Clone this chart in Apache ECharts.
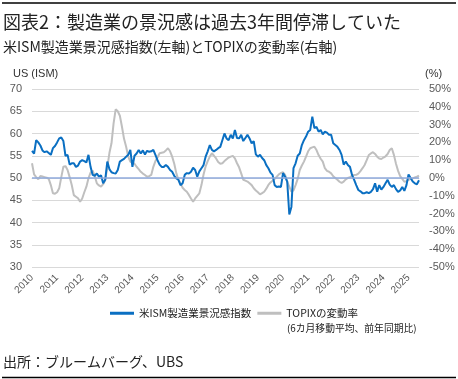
<!DOCTYPE html>
<html><head><meta charset="utf-8">
<script src="https://cdn.jsdelivr.net/npm/echarts@6/dist/echarts.min.js"></script>
<style>html,body{margin:0;padding:0;background:#fff;}#c{width:458px;height:379px;}</style>
</head><body><div id="c"></div>
<script>
// ---- Data ----
const startYear = 2010;
const monthsCount = 186; // 2010-01 .. 2025-06
const categories = [];
for (let i = 0; i < monthsCount; i++) {
  const y = startYear + Math.floor(i / 12), m = (i % 12) + 1;
  categories.push(y + '-' + (m < 10 ? '0' + m : m));
}
const ism = [
  56.1,55.5,58.5,58.0,57.3,56.2,55.8,56.0,55.6,55.2,56.7,57.2,
  58.0,58.9,59.1,58.3,55.0,55.2,53.0,53.3,53.3,52.5,52.8,53.7,
  54.0,53.8,53.5,55.2,52.5,50.7,50.5,51.0,50.3,50.6,48.8,49.6,
  53.7,52.0,51.3,51.1,51.0,51.8,53.7,54.0,54.3,54.8,55.2,56.3,
  52.5,55.0,55.5,56.3,55.5,56.2,55.3,56.1,55.9,56.0,56.3,55.2,
  54.0,53.0,52.5,52.5,52.9,52.5,51.8,51.4,50.5,49.9,49.6,48.4,
  48.8,50.7,51.1,51.0,51.4,52.3,51.8,50.3,51.5,52.2,52.9,54.8,
  56.0,57.4,56.3,56.0,56.3,56.7,57.0,58.5,60.0,58.9,58.5,59.7,
  58.9,60.8,59.0,58.9,59.7,58.3,59.0,59.7,58.9,57.8,58.3,55.3,
  54.8,55.2,54.5,54.0,52.9,52.2,51.2,50.7,48.4,48.0,48.1,48.0,
  51.1,50.3,49.2,41.8,43.5,52.2,53.3,55.0,55.5,57.4,58.5,59.3,
  60.4,60.8,63.8,61.2,61.5,60.4,60.8,59.8,60.4,60.2,59.7,59.7,
  57.8,57.4,57.0,56.3,55.2,53.0,53.7,52.9,52.5,50.7,49.6,48.4,
  47.3,47.0,46.6,46.6,46.8,46.6,46.9,47.5,48.8,46.9,48.4,47.4,
  48.0,48.8,49.6,48.5,48.0,48.4,47.5,46.9,47.2,48.0,47.1,48.4,
  50.8,50.0,49.2,48.8,48.6,49.5
];
const topix = [
  8.3,2.0,0.5,-0.7,1.1,0.8,0.5,0.2,-0.5,-4.0,-8.6,-8.8,
  -8.0,-5.8,0.5,6.3,6.7,4.5,0.5,-3.9,-9.6,-10.5,-11.4,-13.3,
  -11.5,-8.0,-4.9,-0.2,3.0,4.1,1.0,-3.0,-4.2,-4.9,-3.5,-1.1,
  6.0,14.0,19.5,30.7,38.6,37.5,35.0,28.8,22.0,17.6,12.0,9.2,
  8.5,8.0,6.3,5.0,3.5,2.5,1.7,0.7,1.0,1.7,6.3,9.5,
  11.5,13.9,14.2,14.5,15.5,16.7,15.0,12.0,8.0,2.6,-1.0,-3.0,
  -5.5,-6.7,-7.7,-9.5,-11.5,-13.3,-11.5,-10.0,-8.6,-4.0,2.0,6.5,
  9.5,12.0,13.9,12.5,11.0,9.0,8.0,8.3,9.5,10.5,11.5,12.0,
  12.4,11.0,8.3,6.0,2.6,-1.0,-1.5,-2.0,-3.0,-4.0,-5.8,-7.0,
  -8.0,-9.2,-8.5,-7.7,-6.0,-3.9,-2.5,-1.5,-0.5,0.7,2.0,2.8,
  3.2,1.7,-2.1,-4.9,-7.7,-7.0,-4.0,-0.5,4.5,7.0,9.2,12.0,
  15.0,16.7,17.2,17.6,15.7,12.9,10.8,9.2,5.5,4.0,3.5,2.6,
  1.0,0.0,-1.0,-2.1,-2.8,-2.0,-0.8,0.0,0.5,1.2,1.7,1.8,
  2.5,3.9,5.5,7.3,10.0,12.9,13.8,14.5,13.5,12.0,11.0,10.7,
  11.5,12.2,13.5,15.7,16.7,13.0,8.0,4.0,1.0,-0.5,-2.1,-1.8,
  -1.1,-0.5,-0.2,0.3,0.7,1.3
];
const leftTicks = { min: 30, max: 70, interval: 5 };
const rightTicks = { min: -50, max: 50, interval: 10 };
const seriesNames = ['米ISM製造業景況感指数', 'TOPIXの変動率'];
const legendSub = '(6カ月移動平均、前年同期比)';
const titleText = '図表2：製造業の景況感は過去3年間停滞していた';
const subtitleText = '米ISM製造業景況感指数(左軸)とTOPIXの変動率(右軸)';
const sourceText = '出所：ブルームバーグ、UBS';

// ---- Chart ----
const CJK = '"Noto Sans CJK JP","Noto Sans",sans-serif';
const AX = '"Liberation Sans","DejaVu Sans",sans-serif';
const chart = echarts.init(document.getElementById('c'), null, { renderer: 'canvas' });
chart.setOption({
  backgroundColor: '#ffffff',
  animation: false,
  grid: { left: 32, right: 39, top: 89, bottom: 112, containLabel: false },
  legend: {
    data: seriesNames,
    icon: 'rect',
    left: 110, top: 308, padding: 0,
    itemWidth: 24, itemHeight: 3, itemGap: 6,
    textStyle: { fontSize: 10.5, color: '#222', fontFamily: CJK },
    selectedMode: false
  },
  xAxis: {
    type: 'category', data: categories, boundaryGap: false,
    axisLine: { show: true, lineStyle: { color: '#d9d9d9' } },
    axisTick: { show: false },
    axisLabel: {
      interval: function (i) { return i % 12 === 0; },
      formatter: function (v) { return v.slice(0, 4); },
      rotate: 45, margin: 9, fontSize: 10, color: '#595959', fontFamily: AX
    },
    splitLine: { show: false }
  },
  yAxis: [
    {
      type: 'value', min: leftTicks.min, max: leftTicks.max, interval: leftTicks.interval,
      axisLine: { show: false }, axisTick: { show: false },
      axisLabel: { fontSize: 11, color: '#595959', margin: 10, fontFamily: AX },
      splitLine: { lineStyle: { color: '#d9d9d9', width: 1 } }
    },
    {
      type: 'value', min: rightTicks.min, max: rightTicks.max, interval: rightTicks.interval,
      axisLine: { show: false }, axisTick: { show: false },
      axisLabel: { fontSize: 11, color: '#595959', margin: 10, formatter: '{value}%', fontFamily: AX },
      splitLine: { show: false }
    }
  ],
  series: [
    {
      name: seriesNames[1], type: 'line', yAxisIndex: 1, data: topix,
      symbol: 'none', z: 2,
      lineStyle: { color: '#bfbfbf', width: 2 }, itemStyle: { color: '#bfbfbf' },
      markLine: {
        silent: true, symbol: 'none', label: { show: false },
        lineStyle: { color: '#8faadc', width: 1.5, type: 'solid' },
        data: [{ yAxis: 0 }]
      }
    },
    {
      name: seriesNames[0], type: 'line', yAxisIndex: 0, data: ism,
      symbol: 'none', z: 3,
      lineStyle: { color: '#0a6fc2', width: 2 }, itemStyle: { color: '#0a6fc2' }
    }
  ],
  graphic: [
    { type: 'line', shape: { x1: 2, y1: 3, x2: 456, y2: 3 }, style: { stroke: '#000', lineWidth: 1.5 } },
    { type: 'line', shape: { x1: 2, y1: 377.5, x2: 456, y2: 377.5 }, style: { stroke: '#000', lineWidth: 1.5 } },
    { type: 'text', style: { x: 3, y: 22, text: titleText, font: '18px ' + CJK, fill: '#222', verticalAlign: 'middle' } },
    { type: 'text', style: { x: 3, y: 46.5, text: subtitleText, font: '14px ' + CJK, fill: '#222', verticalAlign: 'middle' } },
    { type: 'text', style: { x: 13, y: 74, text: 'US (ISM)', font: '11px ' + AX, fill: '#333', verticalAlign: 'middle' } },
    { type: 'text', style: { x: 425, y: 74, text: '(%)', font: '11px ' + AX, fill: '#333', verticalAlign: 'middle' } },
    { type: 'text', style: { x: 287, y: 328, text: legendSub, font: '9.8px ' + CJK, fill: '#222', verticalAlign: 'middle' } },
    { type: 'text', style: { x: 3, y: 362, text: sourceText, font: '14px ' + CJK, fill: '#222', verticalAlign: 'middle' } }
  ]
});
</script>
</body></html>
